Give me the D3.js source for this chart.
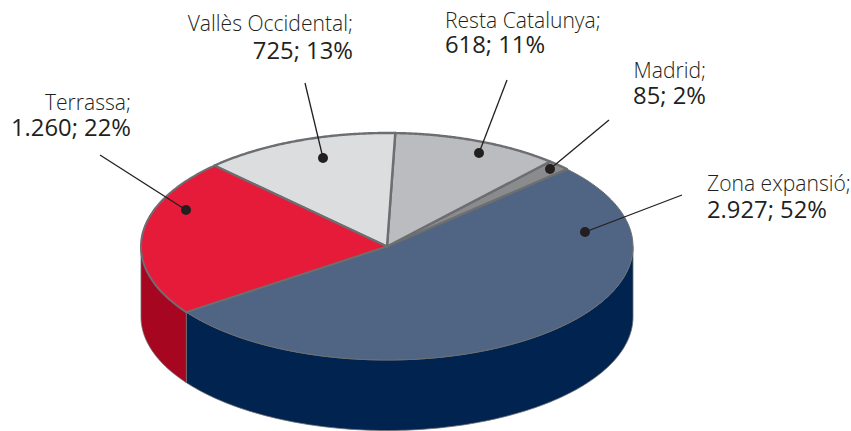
<!DOCTYPE html>
<html><head><meta charset="utf-8">
<style>html,body{margin:0;padding:0;background:#fff}svg{display:block}
text{font-family:"Open Sans",Lato,sans-serif;fill:#231f20}</style>
<script src="https://cdn.jsdelivr.net/npm/d3@7"></script></head><body>
<svg id="c" width="851" height="431"></svg>
<script>
const categories = ["Zona expansió","Terrassa","Vallès Occidental","Resta Catalunya","Madrid"];
const values = [2927,1260,725,618,85];
const valueLabels = ["2.927","1.260","725","618","85"];
const percents = [52,22,13,11,2];
const topColors = ["#4f6583","#e61b3a","#dcddde","#bbbcbf","#8a8b8d"];
const sideColors = ["#00234f","#a6061f","#c0c0c0","#a0a0a0","#777777"];
const strokeWidths = [1,2,2.4,2.4,2.4];
// annotation layout: dot, leader end, text anchor
const layout = [
 {dot:[585,232],end:[682,195],x:707,anchor:"start",y1:191,y2:218},
 {dot:[186,210],end:[100,155],x:131,anchor:"end",y1:110,y2:136},
 {dot:[323,158],end:[305,83],x:353,anchor:"end",y1:31,y2:59},
 {dot:[479,153],end:[507,80],x:445,anchor:"start",y1:28,y2:53},
 {dot:[550,169],end:[609,120],x:706,anchor:"end",y1:78,y2:104}
];
const svg = d3.select("#c");
const cx=387, cy=246.5, rx=246, ry=113.5, depth=70.5;
const sx=d3.scaleLinear().domain([-1,1]).range([cx-rx,cx+rx]);
const sy=d3.scaleLinear().domain([-1,1]).range([cy-ry,cy+ry]);
const rad=d=>d*Math.PI/180;
const pie=d3.pie().sort(null).startAngle(rad(47)).endAngle(rad(407));
const arcs=pie(values);
const pt=(a,dz=0)=>[sx(Math.sin(a)),sy(-Math.cos(a))+dz];
const line=d3.line();
arcs.forEach((d,i)=>{
  const a0=Math.max(d.startAngle,rad(90)), a1=Math.min(d.endAngle,rad(270));
  if(a1<=a0) return;
  const as=d3.range(0,121).map(k=>a0+(a1-a0)*k/120);
  const pts=as.map(a=>pt(a)).concat(as.slice().reverse().map(a=>pt(a,depth)));
  svg.append("path").attr("d",line(pts)+"Z").attr("fill",sideColors[i])
    .attr("stroke","#6d6e71").attr("stroke-width",0.8);
});
const order=[0,4,3,2,1];
order.forEach(i=>{
  const d=arcs[i];
  const as=d3.range(0,121).map(k=>d.startAngle+(d.endAngle-d.startAngle)*k/120);
  const pts=[[sx(0),sy(0)]].concat(as.map(a=>pt(a)));
  svg.append("path").attr("d",line(pts)+"Z").attr("fill",topColors[i])
    .attr("stroke","#6d6e71").attr("stroke-width",strokeWidths[i]).attr("stroke-linejoin","round");
});
layout.forEach((l,i)=>{
  svg.append("line").attr("x1",l.dot[0]).attr("y1",l.dot[1]).attr("x2",l.end[0]).attr("y2",l.end[1])
    .attr("stroke","#231f20").attr("stroke-width",1.3);
  svg.append("circle").attr("cx",l.dot[0]).attr("cy",l.dot[1]).attr("r",5).attr("fill","#231f20");
  svg.append("text").attr("x",l.x).attr("y",l.y1).attr("text-anchor",l.anchor)
    .attr("font-size",21.1).attr("font-weight",300).text(categories[i]+";");
  svg.append("text").attr("x",l.x).attr("y",l.y2).attr("text-anchor",l.anchor)
    .attr("font-size",23.8).attr("font-weight",400).text(valueLabels[i]+"; "+percents[i]+"%");
});
</script></body></html>
